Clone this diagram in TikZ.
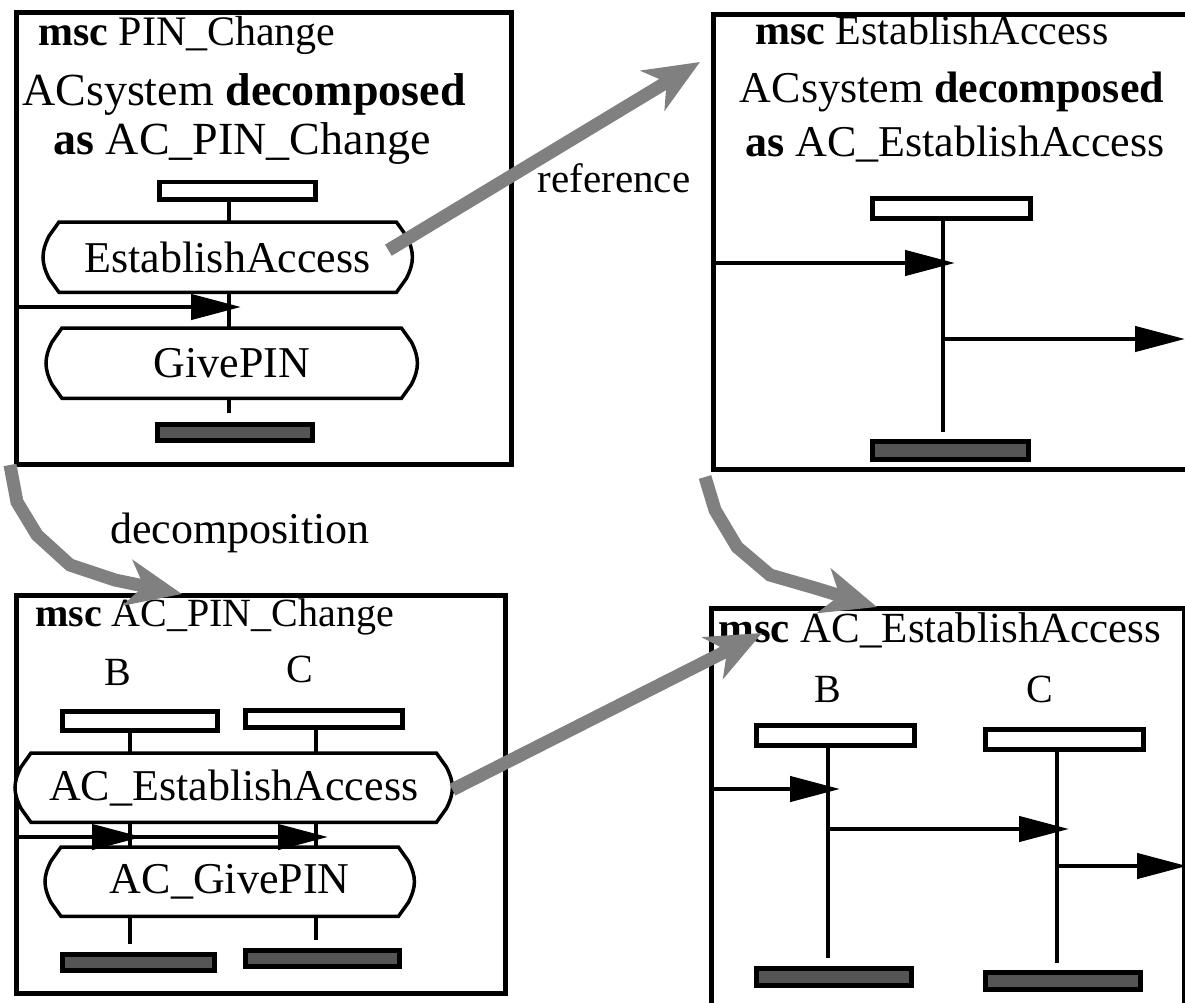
\documentclass[tikz,border=0pt]{standalone}
\usepackage{fontspec}
\setmainfont{Liberation Serif}
\usetikzlibrary{arrows.meta,calc}
\newcommand\fsz[1]{\fontsize{#1}{#1}\selectfont}
\definecolor{arrowgray}{RGB}{128,128,128}
\definecolor{tailgray}{RGB}{85,85,85}
\newcommand\mscref[1]{%
  \draw[line width=3.5pt, fill=white]
    ([xshift=14pt]#1.north west) -- ([xshift=-14pt]#1.north east)
    -- ([xshift=-4pt,yshift=-14pt]#1.north east)
    .. controls ([xshift=4pt,yshift=-30pt]#1.north east) and ([xshift=4pt,yshift=30pt]#1.south east) ..
    ([xshift=-4pt,yshift=14pt]#1.south east)
    -- ([xshift=-14pt]#1.south east) -- ([xshift=14pt]#1.south west)
    -- ([xshift=4pt,yshift=14pt]#1.south west)
    .. controls ([xshift=-4pt,yshift=30pt]#1.south west) and ([xshift=-4pt,yshift=-30pt]#1.north west) ..
    ([xshift=4pt,yshift=-14pt]#1.north west) -- cycle;
  \node[font=\fsz{44}] at (#1.center) {\csname reftext#1\endcsname};}
\begin{document}
\begin{tikzpicture}[x=1pt,y=-1pt,
  frame/.style={draw, line width=5pt, anchor=north west, inner sep=0pt},
  head/.style={draw, line width=4.5pt, fill=white, inner sep=0pt, anchor=north west},
  tail/.style={draw, line width=4.5pt, fill=tailgray, inner sep=0pt, anchor=north west},
  life/.style={line width=4.5pt},
  msg/.style={line width=4.5pt, -{Triangle[length=50pt,width=25pt]}, shorten >=-12pt},
  refbox/.style={inner sep=0pt, anchor=north west},
  txt/.style={inner sep=0pt, anchor=base},
  title/.style={inner sep=0pt, anchor=base west},
  bigarrow/.style={line width=13pt, draw=arrowgray, line join=miter, -{Stealth[length=55pt,width=46pt,inset=16pt]}}]
\useasboundingbox (0,0) rectangle (1185,1003);

% ---------- top left: msc PIN_Change ----------
\node[frame, minimum width=495, minimum height=452] (F1) at (14,10) {};
\node[title, font=\fsz{42}] (t1) at (38,46) {\textbf{msc} PIN\_Change};
\node[txt, font=\fsz{46}] (d1a) at (244,106) {ACsystem \textbf{decomposed}};
\node[txt, font=\fsz{46}] (d1b) at (242,155) {\textbf{as} AC\_PIN\_Change};
\node[head, minimum width=156, minimum height=17] (h1) at (157,180) {};
\node[refbox, minimum width=365, minimum height=70] (ea) at (45,222) {};
\node[refbox, minimum width=367, minimum height=70] (gp) at (48,328) {};
\node[tail, minimum width=155, minimum height=16] (e1) at (155,422) {};
\coordinate (L1a) at (229,197);
\coordinate (L1b) at (229,413);
\draw[life] (L1a) -- (L1b);
\def\reftextea{EstablishAccess}\mscref{ea}
\def\reftextgp{GivePIN}\mscref{gp}
\coordinate (m1) at (229,307);
\draw[msg] (F1.west |- m1) -- (m1);

% ---------- top right: msc EstablishAccess ----------
\node[frame, minimum width=479, minimum height=455] (F2) at (711,12) {};
\node[title, font=\fsz{42}] (t2) at (755,45) {\textbf{msc} EstablishAccess};
\node[txt, font=\fsz{44}] (d2a) at (952,103) {ACsystem \textbf{decomposed}};
\node[txt, font=\fsz{44}] (d2b) at (955,157) {\textbf{as} AC\_EstablishAccess};
\node[head, minimum width=158, minimum height=20] (h2) at (870,196) {};
\node[tail, minimum width=156, minimum height=18] (e2) at (870,439) {};
\coordinate (L2a) at (943,216);
\coordinate (L2b) at (943,432);
\draw[life] (L2a) -- (L2b);
\coordinate (m2) at (943,263);
\draw[msg] (F2.west |- m2) -- (m2);
\coordinate (m3) at (943,339);
\coordinate (o2) at (1185,339);
\draw[msg, shorten >=0pt] (m3) -- (o2);

% ---------- bottom left: msc AC_PIN_Change ----------
\node[frame, minimum width=489, minimum height=398] (F3) at (14,593) {};
\node[title, font=\fsz{40}] (t3) at (35,626) {\textbf{msc} AC\_PIN\_Change};
\node[txt, font=\fsz{40}] (B1) at (118,685) {B};
\node[txt, font=\fsz{40}] (C1) at (300,682) {C};
\node[head, minimum width=155, minimum height=19] (hb1) at (60,709) {};
\node[head, minimum width=157, minimum height=17] (hc1) at (243,708) {};
\node[refbox, minimum width=433, minimum height=69] (bea) at (17,753) {};
\node[refbox, minimum width=365, minimum height=69] (bgp) at (47,847) {};
\node[tail, minimum width=152, minimum height=16] (eb1) at (60,952) {};
\node[tail, minimum width=154, minimum height=16] (ec1) at (243,948) {};
\coordinate (lb0) at (130,728);
\coordinate (lc0) at (316,725);
\draw[life] (lb0) -- (lb0 |- bea.north);
\draw[life] (lc0) -- (lc0 |- bea.north);
\draw[life] (lb0 |- bea.south) -- (lb0 |- bgp.north);
\draw[life] (lc0 |- bea.south) -- (lc0 |- bgp.north);
\draw[life] (lb0 |- bgp.south) -- ($(lb0 |- eb1.north)+(0,-8)$);
\draw[life] (lc0 |- bgp.south) -- ($(lc0 |- ec1.north)+(0,-8)$);
\def\reftextbea{AC\_EstablishAccess}\mscref{bea}
\def\reftextbgp{AC\_GivePIN}\mscref{bgp}
\coordinate (mb1) at (130,837);
\coordinate (mc1) at (316,837);
\draw[msg] (F3.west |- mb1) -- (mb1);
\draw[msg] (mb1) -- (mc1);

% ---------- bottom right: msc AC_EstablishAccess ----------
\node[frame, minimum width=473, minimum height=500] (F4) at (709,606) {};
\node[title, font=\fsz{43}] (t4) at (718,642) {\textbf{msc} AC\_EstablishAccess};
\node[txt, font=\fsz{40}] (B2) at (828,702) {B};
\node[txt, font=\fsz{40}] (C2) at (1040,702) {C};
\node[head, minimum width=158, minimum height=20] (hb2) at (754,723) {};
\node[head, minimum width=158, minimum height=20] (hc2) at (983,727) {};
\node[tail, minimum width=155, minimum height=17] (eb2) at (754,966) {};
\node[tail, minimum width=155, minimum height=17] (ec2) at (983,970) {};
\coordinate (LBa) at (828,743);
\coordinate (LBb) at (828,958);
\coordinate (LCa) at (1057,747);
\coordinate (LCb) at (1057,963);
\draw[life] (LBa) -- (LBb);
\draw[life] (LCa) -- (LCb);
\coordinate (n1) at (828,789);
\coordinate (n2a) at (828,829);
\coordinate (n2b) at (1057,829);
\coordinate (n3) at (1057,866);
\draw[msg] (F4.west |- n1) -- (n1);
\draw[msg] (n2a) -- (n2b);
\draw[msg, shorten >=0pt] (n3) -- (F4.east |- n3);

% ---------- grey relation arrows ----------
\coordinate (r1s) at ($(ea.east)+(-22,-7)$);
\coordinate (r1e) at ($(F2.north west)+(-11,50)$);
\draw[bigarrow] (r1s) -- (r1e);
\node[txt, font=\fsz{41}] (lref) at (614,193) {reference};

\coordinate (r2s) at ($(F1.south west)+(-4,-2)$);
\coordinate (r2e) at ($(F3.north west)+(168,1)$);
\draw[bigarrow] (r2s) -- (17,502) -- (37,535) -- (70,565) -- (115,580) -- (r2e);
\node[txt, font=\fsz{44}] (ldec) at (240,543) {decomposition};

\coordinate (r3s) at ($(F2.south west)+(-6,5)$);
\coordinate (r3e) at ($(F4.north west)+(168,1)$);
\draw[bigarrow] (r3s) -- (715,510) -- (737,547) -- (770,575) -- (815,588) -- (r3e);

\coordinate (r4s) at ($(bea.east)+(2,2)$);
\coordinate (r4e) at ($(F4.north west)+(53,27)$);
\draw[bigarrow] (r4s) -- (r4e);
\end{tikzpicture}
\end{document}
